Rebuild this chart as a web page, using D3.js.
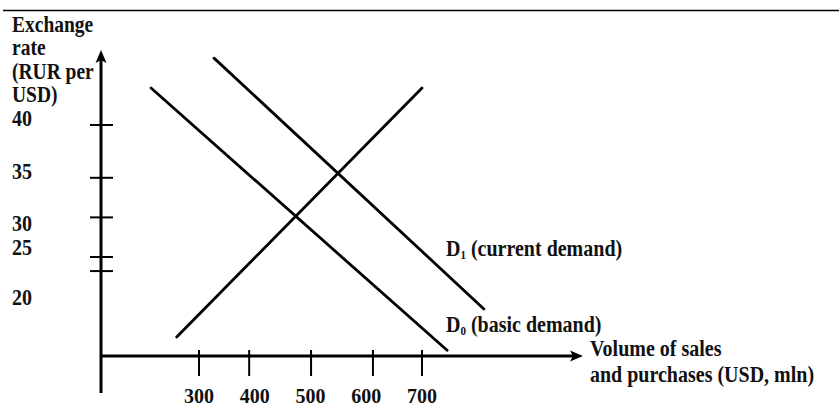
<!DOCTYPE html>
<html>
<head>
<meta charset="utf-8">
<script src="https://cdn.jsdelivr.net/npm/d3@7"></script>
<style>
  body { margin: 0; background: #fff; }
  text { font-family: "Liberation Serif", "Times New Roman", serif; font-weight: bold; font-size: 20px; fill: #111; }
</style>
</head>
<body>
<div id="chart"></div>
<script>
// volume (USD mln) vs exchange rate (RUR per USD), end points of each line
const supply  = [{q: 260, r: 15.9}, {q: 700, r: 44.2}];
const demand0 = [{q: 214, r: 44.2}, {q: 745, r: 14.4}];
const demand1 = [{q: 327, r: 47.6}, {q: 811, r: 19.1}];

// tick marks as drawn on the axes (not evenly spaced in the original)
const xTickValues = [300, 390, 501, 612, 700];
const xTickLabels = ["300", "400", "500", "600", "700"];
const xLabelAt = [300, 400, 500, 600, 700];

const yTickValues = [40, 34, 29.5, 25, 23.4];
const yTickLabels = ["40", "35", "30", "25", "20"];
const yLabelAt = [39.9, 33.9, 27.95, 25.2, 19.55];

const yTitle = ["Exchange", "rate", "(RUR per", "USD)"];
const xTitle = ["Volume of sales", "and purchases (USD, mln)"];

var width = 839, height = 409;
const svg = d3.select("#chart").append("svg")
  .attr("width", width)
  .attr("height", height);

const x = d3.scaleLinear().domain([300, 700]).range([199, 422]);
const y = d3.scaleLinear().domain([20, 40]).range([301, 125]);

// axis frame
const axisLeft = 101, axisBottom = 356, axisTop = 50, axisBelow = 393, axisRight = 583;

// text in the original is a bit taller than normal
const stretch = (px, py, k = 1.15) => `translate(${px},${py}) scale(1,${k})`;

// top rule
svg.append("line")
  .attr("x1", 3).attr("x2", width)
  .attr("y1", 10.5).attr("y2", 10.5)
  .attr("stroke", "#000").attr("stroke-width", 1.5);

// y axis + arrow
svg.append("line")
  .attr("x1", axisLeft).attr("x2", axisLeft)
  .attr("y1", axisTop + 6).attr("y2", axisBelow)
  .attr("stroke", "#000").attr("stroke-width", 3);
svg.append("path")
  .attr("d", `M${axisLeft},${axisTop} L${axisLeft + 5.5},${axisTop + 13} L${axisLeft},${axisTop + 10} L${axisLeft - 5.5},${axisTop + 13} Z`)
  .attr("fill", "#000");

// x axis + arrow
svg.append("line")
  .attr("x1", axisLeft).attr("x2", axisRight - 6)
  .attr("y1", axisBottom).attr("y2", axisBottom)
  .attr("stroke", "#000").attr("stroke-width", 3);
svg.append("path")
  .attr("d", `M${axisRight},${axisBottom} L${axisRight - 13},${axisBottom - 5.5} L${axisRight - 10},${axisBottom} L${axisRight - 13},${axisBottom + 5.5} Z`)
  .attr("fill", "#000");

// y ticks cross the axis
svg.selectAll(".ytick").data(yTickValues).enter()
  .append("line")
  .attr("class", "ytick")
  .attr("x1", axisLeft - 11).attr("x2", axisLeft + 12)
  .attr("y1", d => y(d)).attr("y2", d => y(d))
  .attr("stroke", "#000").attr("stroke-width", 2);

svg.selectAll(".ylab").data(yTickLabels).enter()
  .append("text")
  .attr("class", "ylab")
  .attr("transform", (d, i) => stretch(12, y(yLabelAt[i])))
  .text(d => d);

// x ticks
svg.selectAll(".xtick").data(xTickValues).enter()
  .append("line")
  .attr("class", "xtick")
  .attr("x1", d => x(d)).attr("x2", d => x(d))
  .attr("y1", axisBottom - 6).attr("y2", axisBottom + 20)
  .attr("stroke", "#000").attr("stroke-width", 2);

svg.selectAll(".xlab").data(xTickLabels).enter()
  .append("text")
  .attr("class", "xlab")
  .attr("transform", (d, i) => stretch(x(xLabelAt[i]), 403, 1.08))
  .attr("text-anchor", "middle")
  .text(d => d);

// supply / demand lines
const line = d3.line().x(d => x(d.q)).y(d => y(d.r));
[supply, demand0, demand1].forEach(s => {
  svg.append("path")
    .datum(s)
    .attr("d", line)
    .attr("fill", "none")
    .attr("stroke", "#000")
    .attr("stroke-width", 2.8)
    .attr("stroke-linecap", "round");
});

// axis titles
svg.selectAll(".ytitle").data(yTitle).enter()
  .append("text")
  .attr("class", "ytitle")
  .attr("transform", (d, i) => stretch(12, 32 + i * 23.3))
  .style("font-size", "19.5px")
  .text(d => d);

svg.selectAll(".xtitle").data(xTitle).enter()
  .append("text")
  .attr("class", "xtitle")
  .attr("transform", (d, i) => stretch(590, 356 + i * 26))
  .text(d => d);

// curve labels with subscript
function curveLabel(sub, txt, px, py) {
  const t = svg.append("text").attr("transform", stretch(px, py));
  t.append("tspan").text("D");
  t.append("tspan").text(sub).attr("font-size", "11px").attr("dy", 3);
  t.append("tspan").text(" " + txt).attr("dy", -3);
}
curveLabel("1", "(current demand)", 446, 256);
curveLabel("0", "(basic demand)", 446, 332);
</script>
</body>
</html>
